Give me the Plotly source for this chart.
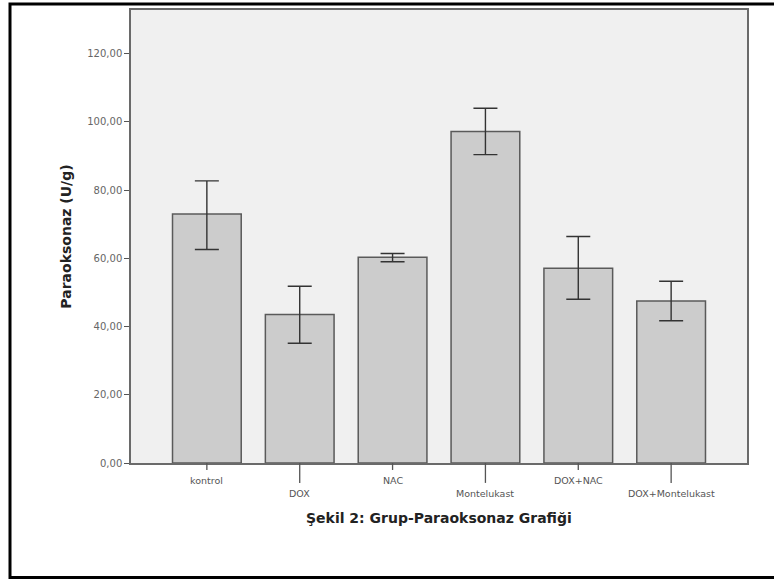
import plotly.graph_objects as go

categories = ["kontrol", "DOX", "NAC", "Montelukast", "DOX+NAC", "DOX+Montelukast"]
means = [73.0, 43.5, 60.3, 97.2, 57.1, 47.5]
err_plus = [9.7, 8.3, 1.1, 6.8, 9.3, 5.8]
err_minus = [10.4, 8.4, 1.3, 6.8, 9.1, 5.8]
y_ticks = [0, 20, 40, 60, 80, 100, 120]

W, H = 774, 581
L, R, T, B = 131, 27, 8, 118
plot_h = H - T - B
FONT = "DejaVu Sans, Verdana, sans-serif"

fig = go.Figure()
fig.add_trace(go.Bar(
    x=categories, y=means, width=0.74,
    marker=dict(color="#cccccc", line=dict(color="#5a5a5a", width=1.5)),
    error_y=dict(type="data", symmetric=False, array=err_plus, arrayminus=err_minus,
                 color="#333333", thickness=1.4, width=12),
    showlegend=False,
))

shapes = []
annotations = []
for i, c in enumerate(categories):
    long_tick = (i % 2 == 1)
    tl = 20 if long_tick else 7
    shapes.append(dict(type="line", xref="x", yref="paper", x0=c, x1=c,
                       y0=0, y1=-tl / plot_h, line=dict(color="#555555", width=1.3)))
    annotations.append(dict(x=c, xref="x", y=0, yref="paper", text=c, showarrow=False,
                            yanchor="middle", yshift=-30 if long_tick else -17,
                            font=dict(family=FONT, size=9.5, color="#555555")))

# outer frame
shapes.append(dict(type="rect", xref="paper", yref="paper",
                   x0=(10 - L) / (W - L - R), x1=(790 - L) / (W - L - R),
                   y0=(T + plot_h - 578) / plot_h, y1=(T + plot_h - 2) / plot_h,
                   line=dict(color="black", width=3), fillcolor="rgba(0,0,0,0)", layer="below"))

annotations.append(dict(x=0.5, xref="paper", y=0, yref="paper", yanchor="middle", yshift=-55,
                        text="<b>Şekil 2: Grup-Paraoksonaz Grafiği</b>", showarrow=False,
                        font=dict(family=FONT, size=14, color="#222222")))

fig.update_layout(
    width=W, height=H,
    margin=dict(l=L, r=R, t=T, b=B),
    paper_bgcolor="white", plot_bgcolor="#f0f0f0",
    separators=",.",
    shapes=shapes, annotations=annotations,
    bargap=0.26,
)
fig.update_xaxes(range=[-0.817, 5.817], showticklabels=False, ticks="",
                 showline=True, linecolor="#6a6a6a", linewidth=1.5, mirror=True,
                 showgrid=False, zeroline=False)
fig.update_yaxes(range=[0, 132.8], tickvals=y_ticks, tickformat=".2f",
                 ticks="outside", ticklen=5, tickcolor="#555555", tickwidth=1.3,
                 tickfont=dict(family=FONT, size=10, color="#666666"),
                 showline=True, linecolor="#6a6a6a", linewidth=1.5, mirror=True,
                 showgrid=False, zeroline=False,
                 title=dict(text="<b>Paraoksonaz (U/g)</b>", standoff=12,
                            font=dict(family=FONT, size=14, color="#222222")))

fig.write_html("out.html", config={"displayModeBar": False},
               post_script="document.body.style.margin='0';document.body.style.overflow='hidden';")
